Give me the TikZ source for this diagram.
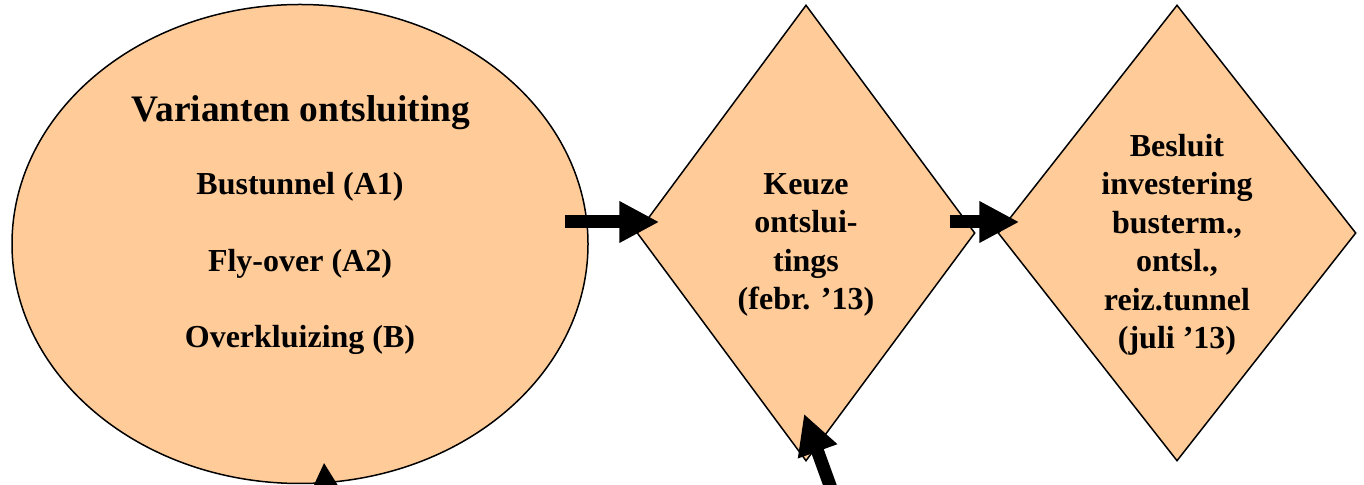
\documentclass[tikz,border=0pt]{standalone}
\usepackage{fontspec}
\setmainfont{Liberation Serif}
\usetikzlibrary{shapes.geometric,arrows.meta,calc}

\tikzset{
  shapefill/.style={fill={rgb,255:red,255;green,204;blue,153}, draw=black, line width=0.75pt, inner sep=0pt},
  lbl/.style={font=\bfseries\fontsize{16}{19.25}\selectfont, align=center, inner sep=0pt},
  bigarrow/.style={line width=6.5pt, -{Triangle[length=20pt,width=19.5pt]}},
}

\begin{document}
\begin{tikzpicture}[x=0.5pt, y=-0.5pt]
  \useasboundingbox (0,0) rectangle (1364,485);
  \clip (0,0) rectangle (1364,485);

  % shapes
  \node[shapefill, ellipse, minimum width=288pt, minimum height=239.5pt] (ell) at (300,244) {};
  \node[shapefill, diamond, minimum width=169pt, minimum height=228pt] (d1) at (806,233) {};
  \node[shapefill, diamond, minimum width=179pt, minimum height=228pt] (d2) at (1177,233) {};

  % texts
  \node[lbl, font=\bfseries\fontsize{18.7}{22}\selectfont, anchor=base] (title) at (301,122) {Varianten ontsluiting};
  \node[lbl, anchor=base] (v1) at (300,195) {Bustunnel (A1)};
  \node[lbl, anchor=base] (v2) at (300,272) {Fly-over (A2)};
  \node[lbl, anchor=base] (v3) at (300,348) {Overkluizing (B)};
  \node[lbl] (t1) at (806,245) {Keuze\\ontslui-\\tings\\(febr. ’13)};
  \node[lbl] (t2) at (1177,245) {Besluit\\investering\\busterm.,\\ontsl.,\\reiz.tunnel\\(juli ’13)};

  % incoming ends from below
  \coordinate (src3) at (845,527);
  \coordinate (src4) at (329,545);

  % connectors
  \draw[bigarrow] ($(ell.east)+(-24,-22)$) -- ($(d1.west)+(23,-11)$);
  \draw[bigarrow] ($(d1.east)+(-26,-11)$) -- ($(d2.west)+(22,-11)$);
  \draw[bigarrow] (src3) -- ($(d1.south)+(-2,-48)$);
  \draw[bigarrow] (src4) -- ($(ell.south)+(24,-22)$);
\end{tikzpicture}
\end{document}
